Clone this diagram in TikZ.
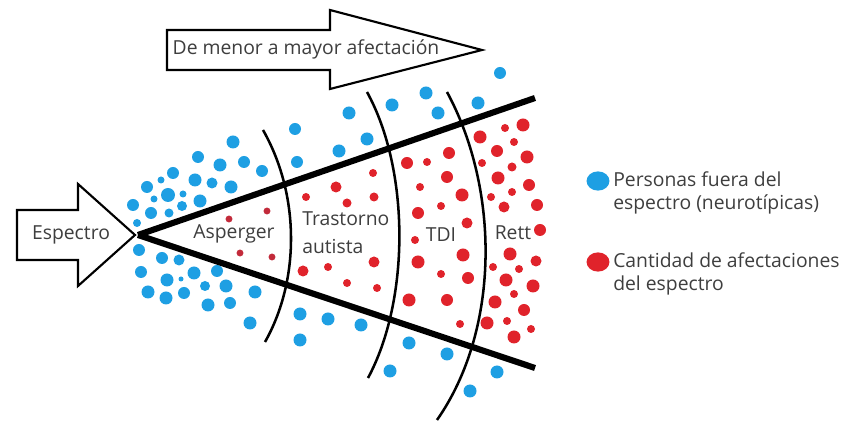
\documentclass[tikz,border=0pt]{standalone}
\usepackage{fontspec}
\setmainfont{Open Sans}
\usetikzlibrary{positioning}

\definecolor{neuroblue}{HTML}{1E9FE3}
\definecolor{spectred}{HTML}{E0232B}
\definecolor{dimred}{HTML}{C22A3A}
\definecolor{labelgray}{HTML}{3E3E3E}

\begin{document}
\begin{tikzpicture}[
    x=0.75pt, y=-0.75pt,
    node distance=4pt and 4pt,
    label/.style={font=\fontsize{14.5}{17}\selectfont, text=labelgray, inner sep=0pt},
    arrowbox/.style={draw, line width=1.6pt, fill=white, line join=miter},
    wedge/.style={line width=4.6pt},
    border/.style={line width=1.9pt},
    bluedot/.style={fill=neuroblue},
    reddot/.style={fill=spectred}]

  \useasboundingbox (0,0) rectangle (843,423);

  % Blue dots (outside the spectrum)
  \foreach \x/\y/\r in {233/142/6.5, 198/157/6, 220/165/6.5, 244/162/6, 262/171/6,
      173/173/6, 161/180/3.5, 195/180/6.5, 212/183/5.5, 231/187/6.5, 147/187/6,
      168/195/7, 183/194/3.5, 154/199/3.5, 200/201/6.5, 133/205/6, 151/213/6,
      169/213/4.5, 182/206/5, 137/223/4,
      295/129/6, 297/162/6, 339/151/6.5, 367/139/6.5, 349/113/6.5, 392/105/6.5,
      426/93/6.5, 438/113/6.5, 478/103/6.5, 500/73/6,
      139/250/6, 162/258/6, 179/260/5.5, 141/272/6, 167/280/6.5, 181/279/2.5,
      194/273/6.5, 217/271/6, 148/292/6.5, 166/298/6.5, 184/293/6, 205/286/5,
      226/286/6.5, 255/292/6.5, 208/305/6.5, 230/303/6, 250/323/6.5,
      300/314/6.5, 328/319/6.5, 361/325/6.5, 300/340/6.5, 390/371/6.5,
      409/343/6.5, 447/354/6.5, 470/391/6.5, 497/372/6.5}
    \fill [bluedot] (\x,\y) circle [radius=\r*0.75pt];

  % Red dots (inside the spectrum)
  \foreach \x/\y in {229/219, 240/253, 267/211, 272/257}
    \fill [dimred] (\x,\y) circle [radius=2.6pt];
  \foreach \x/\y/\r in {303/271/5.5, 328/267/4, 374/262/5.5, 347/283/4, 377/288/4,
      373/173/4, 336/187/5.5, 306/197/4, 374/197/4.5, 347/203/4.5,
      407/163/6, 427/162/4, 449/153/6, 447/177/6, 420/187/4, 462/195/6.5,
      441/206/4, 418/213/6, 467/223/5.5, 415/240/4, 463/255/6.5, 418/262/6.5,
      441/274/4, 468/278/6, 409/300/6.5, 447/300/6, 460/324/4,
      523/125/6.5, 505/128/4, 480/137/6.5, 514/142/4, 497/151/6, 527/157/6.5,
      482/163/4, 512/167/4.5, 498/178/6.5, 529/185/6, 491/197/4, 512/192/4,
      504/207/5.5, 537/205/6, 540/230/6, 510/254/6.5, 536/261/5.5, 493/267/4,
      519/269/4, 506/280/6.5, 533/286/6.5, 514/294/4, 495/302/6.5, 524/310/6,
      487/323/6.5, 507/321/4, 531/329/4, 514/337/6.5}
    \fill [reddot] (\x,\y) circle [radius=\r*0.75pt];

  % Wedge of the spectrum
  \coordinate (apex) at (138,235);
  \coordinate (upper) at (535,98);
  \coordinate (lower) at (535,368);
  \draw [wedge] (apex) -- (upper);
  \draw [wedge] (apex) -- (lower);

  % Borders between the groups
  \draw [border] (263,130) .. controls (300,195) and (300,280) .. (265,342);
  \draw [border] (367,92) .. controls (410,170) and (410,300) .. (368,378);
  \draw [border] (447,92) .. controls (500,190) and (500,330) .. (437,420);

  % Arrows
  \draw [arrowbox] (167,30) -- (330,30) -- (330,10) -- (482,50) -- (330,89)
    -- (330,70) -- (167,70) -- cycle;
  \draw [arrowbox] (17,210) -- (78,210) -- (78,184) -- (135,235) -- (78,286)
    -- (78,260) -- (17,260) -- cycle;
  \node (scale) [label] at (306,49) {De menor a mayor afectación};
  \node (spectrum) [label] at (71,235) {Espectro};

  % Group labels
  \node (asperger) [label] at (234,234) {Asperger};
  \node (autism) [label, align=left, anchor=west] at (302,233) {Trastorno\\[4pt]autista};
  \node (tdi) [label] at (441,235) {TDI};
  \node (rett) [label] at (513,233) {Rett};

  % Legend
  \fill [bluedot] (598,181) ellipse [x radius=8.6pt, y radius=7.2pt];
  \fill [reddot] (598,262) ellipse [x radius=8.6pt, y radius=7.2pt];
  \node (bluekey) [label, align=left, anchor=west] at (613,193)
    {Personas fuera del\\espectro (neurotípicas)};
  \node (redkey) [label, align=left, anchor=west] at (613,274)
    {Cantidad de afectaciones\\del espectro};
\end{tikzpicture}
\end{document}
